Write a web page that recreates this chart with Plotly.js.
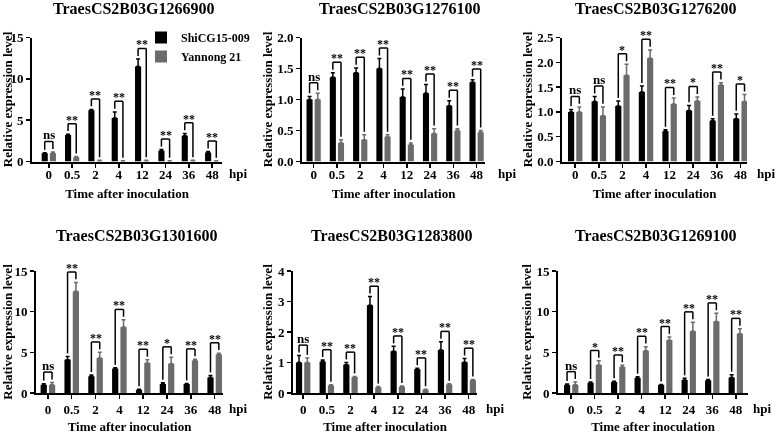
<!DOCTYPE html>
<html>
<head>
<meta charset="utf-8">
<script src="https://cdn.plot.ly/plotly-3.0.1.min.js"></script>
<style>html,body{margin:0;padding:0;background:#fff}#chart{width:777px;height:434px;filter:grayscale(100%);will-change:transform}</style>
</head>
<body>
<div id="chart"></div>
<script>
// ---------- data ----------
const categories = ["0", "0.5", "2", "4", "12", "24", "36", "48"];
const seriesNames = ["ShiCG15-009", "Yannong 21"];
const genes = ["TraesCS2B03G1266900", "TraesCS2B03G1276100", "TraesCS2B03G1276200",
               "TraesCS2B03G1301600", "TraesCS2B03G1283800", "TraesCS2B03G1269100"];

const p1Shi    = [1.0, 3.2, 6.2, 5.25, 11.5, 1.3, 3.1, 1.1];
const p1ShiErr = [0.05, 0.1, 0.1, 0.75, 0.9, 0.15, 0.3, 0.1];
const p1Yan    = [1.0, 0.5, 0.1, 0.05, 0.1, 0.05, 0.1, 0.05];
const p1YanErr = [0.15, 0.1, 0.05, 0.03, 0.05, 0.03, 0.05, 0.03];
const p1Sig    = ["ns", "**", "**", "**", "**", "**", "**", "**"];

const p2Shi    = [1.0, 1.36, 1.43, 1.5, 1.04, 1.1, 0.9, 1.28];
const p2ShiErr = [0.05, 0.07, 0.08, 0.16, 0.13, 0.14, 0.08, 0.04];
const p2Yan    = [1.0, 0.3, 0.35, 0.4, 0.27, 0.45, 0.5, 0.47];
const p2YanErr = [0.1, 0.05, 0.08, 0.03, 0.03, 0.08, 0.03, 0.03];
const p2Sig    = ["ns", "**", "**", "**", "**", "**", "**", "**"];

const p3Shi    = [1.0, 1.21, 1.12, 1.4, 0.61, 1.03, 0.82, 0.86];
const p3ShiErr = [0.05, 0.1, 0.1, 0.12, 0.03, 0.1, 0.04, 0.1];
const p3Yan    = [1.0, 0.92, 1.74, 2.08, 1.16, 1.22, 1.54, 1.21];
const p3YanErr = [0.1, 0.18, 0.22, 0.17, 0.12, 0.08, 0.05, 0.14];
const p3Sig    = ["ns", "ns", "*", "**", "**", "*", "**", "*"];

const p4Shi    = [1.0, 4.1, 2.05, 3.0, 0.4, 1.1, 1.1, 1.9];
const p4ShiErr = [0.15, 0.4, 0.15, 0.1, 0.05, 0.15, 0.07, 0.25];
const p4Yan    = [1.0, 12.5, 4.3, 8.1, 3.7, 3.6, 4.0, 4.75];
const p4YanErr = [0.3, 1.1, 0.7, 0.9, 0.4, 0.8, 0.15, 0.15];
const p4Sig    = ["ns", "**", "**", "**", "**", "*", "**", "**"];

const p5Shi    = [1.0, 1.03, 0.93, 2.88, 1.37, 0.78, 1.41, 1.01];
const p5ShiErr = [0.23, 0.05, 0.07, 0.28, 0.16, 0.03, 0.27, 0.12];
const p5Yan    = [1.0, 0.25, 0.52, 0.19, 0.21, 0.11, 0.28, 0.42];
const p5YanErr = [0.15, 0.02, 0.02, 0.02, 0.02, 0.01, 0.02, 0.02];
const p5Sig    = ["ns", "**", "**", "**", "**", "**", "**", "**"];

const p6Shi    = [1.0, 1.25, 1.35, 1.85, 1.0, 1.6, 1.55, 1.9];
const p6ShiErr = [0.1, 0.1, 0.1, 0.15, 0.05, 0.2, 0.1, 0.35];
const p6Yan    = [1.0, 3.45, 3.2, 5.2, 6.5, 7.6, 8.8, 7.3];
const p6YanErr = [0.35, 0.5, 0.2, 0.5, 0.4, 1.1, 1.0, 0.6];
const p6Sig    = ["ns", "*", "**", "**", "**", "**", "**", "**"];

const yMaxes = [15, 2, 2.5, 15, 4, 15];
const yDticks = [5, 0.5, 0.5, 5, 1, 5];

// ---------- layout / style ----------
const FONT = "'Liberation Serif', 'Times New Roman', serif";
const W = 777, H = 434;
const px = v => v / W, py = v => 1 - v / H;
const panelsData = [
  [p1Shi, p1ShiErr, p1Yan, p1YanErr, p1Sig],
  [p2Shi, p2ShiErr, p2Yan, p2YanErr, p2Sig],
  [p3Shi, p3ShiErr, p3Yan, p3YanErr, p3Sig],
  [p4Shi, p4ShiErr, p4Yan, p4YanErr, p4Sig],
  [p5Shi, p5ShiErr, p5Yan, p5YanErr, p5Sig],
  [p6Shi, p6ShiErr, p6Yan, p6YanErr, p6Sig]
];
const geom = [
  {xd: [32, 222],  yd: [161.5, 37.5], xr: [-0.72, 7.42], title: [133.5, 8],  hpi: [238, 173, "center"], ytf: '',    lso: -4, tso: 8},
  {xd: [302, 485], yd: [161.5, 37.5], xr: [-0.5, 7.36],  title: [399, 8],    hpi: [507, 173, "center"], ytf: '.1f', lso: -4, tso: 8},
  {xd: [562, 747], yd: [161.5, 37.5], xr: [-0.56, 7.28], title: [655, 8],    hpi: [776.5, 173, "right"], ytf: '.1f', lso: -4, tso: 8},
  {xd: [36, 223],  yd: [393, 271],    xr: [-0.5, 7.35],  title: [136, 235],  hpi: [238, 408, "center"], ytf: '',    lso: -1, tso: 8},
  {xd: [293, 477], yd: [393, 271],    xr: [-0.43, 7.35], title: [391, 235],  hpi: [495, 408, "center"], ytf: '',    lso: -1, tso: 8},
  {xd: [558, 748], yd: [393, 271],    xr: [-0.56, 7.52], title: [655, 235],  hpi: [762, 408, "center"], ytf: '',    lso: -1, tso: 8}
];
const BLACK = "#000000", GRAY = "#6b6b6b";
const bargap = 0.3, bargroupgap = 0.25;
const halfOff = (1 - bargap) / 4;

const idx = categories.map((_, i) => i);
const zeros = categories.map(() => 0);
const f = (size) => ({family: FONT, size: size, color: "#000", weight: "bold"});

const traces = [], shapes = [], annotations = [];
const layout = {
  width: W, height: H,
  margin: {l: 0, r: 0, t: 0, b: 0},
  paper_bgcolor: "#fff", plot_bgcolor: "rgba(0,0,0,0)",
  font: f(13),
  barmode: "group", bargap: bargap, bargroupgap: bargroupgap,
  showlegend: true,
  legend: {x: px(141), y: py(23), xanchor: "left", yanchor: "top", bgcolor: "rgba(0,0,0,0)",
           font: f(12), tracegroupgap: 0, itemwidth: 30},
  shapes: shapes, annotations: annotations
};

panelsData.forEach((pd, k) => {
  const [shi, shiErr, yan, yanErr, sig] = pd;
  const g = geom[k];
  const sfx = k === 0 ? "" : String(k + 1);
  const xa = "x" + sfx, ya = "y" + sfx;
  const ymax = yMaxes[k];
  traces.push({
    type: "bar", x: idx, y: shi, name: seriesNames[0], legendgroup: "a", showlegend: k === 0,
    xaxis: xa, yaxis: ya, marker: {color: BLACK, line: {width: 0}},
    error_y: {type: "data", symmetric: false, array: shiErr, arrayminus: zeros, color: BLACK, thickness: 1.5, width: 2}
  });
  traces.push({
    type: "bar", x: idx, y: yan, name: seriesNames[1], legendgroup: "b", showlegend: k === 0,
    xaxis: xa, yaxis: ya, marker: {color: GRAY, line: {width: 0}},
    error_y: {type: "data", symmetric: false, array: yanErr, arrayminus: zeros, color: GRAY, thickness: 1.5, width: 2}
  });
  layout["xaxis" + sfx] = {
    domain: [px(g.xd[0]), px(g.xd[1])], anchor: ya, range: g.xr,
    tickmode: "array", tickvals: idx, ticktext: categories,
    ticks: "outside", ticklen: 4, tickwidth: 1.5, tickcolor: "#000", ticklabelstandoff: g.lso,
    showline: true, linewidth: 2, linecolor: "#000", showgrid: false, zeroline: false,
    tickfont: f(13),
    title: {text: "Time after inoculation", font: f(13), standoff: g.tso},
    fixedrange: true
  };
  layout["yaxis" + sfx] = {
    domain: [py(g.yd[0]), py(g.yd[1])], anchor: xa, range: [0, ymax],
    tick0: 0, dtick: yDticks[k], tickformat: g.ytf,
    ticks: "outside", ticklen: 4, tickwidth: 1.5, tickcolor: "#000",
    showline: true, linewidth: 2, linecolor: "#000", showgrid: false, zeroline: false,
    tickfont: f(13),
    title: {text: "Relative expression level", font: f(13), standoff: 2},
    fixedrange: true
  };
  // gene title
  annotations.push({text: genes[k], xref: "paper", yref: "paper", x: px(g.title[0]), y: py(g.title[1]),
    xanchor: "center", yanchor: "middle", showarrow: false, font: f(16)});
  // hpi label
  annotations.push({text: "hpi", xref: "paper", yref: "paper", x: px(g.hpi[0]), y: py(g.hpi[1]),
    xanchor: g.hpi[2], yanchor: "middle", showarrow: false, font: f(13)});
  // significance brackets
  categories.forEach((c, i) => {
    const topB = shi[i] + shiErr[i], topG = yan[i] + yanErr[i];
    const yb = Math.max(topB, topG) + 0.085 * ymax;
    const gap = 0.025 * ymax;
    const xb = i - halfOff, xg = i + halfOff;
    const ln = {color: "#000", width: 1.5};
    shapes.push({type: "line", xref: xa, yref: ya, x0: xb, x1: xg, y0: yb, y1: yb, line: ln});
    shapes.push({type: "line", xref: xa, yref: ya, x0: xb, x1: xb, y0: yb, y1: topB + gap, line: ln});
    shapes.push({type: "line", xref: xa, yref: ya, x0: xg, x1: xg, y0: yb, y1: topG + gap, line: ln});
    const isNs = sig[i] === "ns";
    annotations.push({text: sig[i], xref: xa, yref: ya, x: i, y: yb, xanchor: "center", yanchor: "bottom",
      showarrow: false, yshift: isNs ? -3 : -5, font: f(isNs ? 13 : 12)});
  });
});

Plotly.newPlot("chart", traces, layout, {displayModeBar: false, staticPlot: true});
</script>
</body>
</html>
